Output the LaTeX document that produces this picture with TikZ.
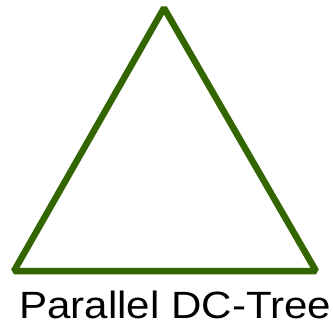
\documentclass[tikz,border=0pt]{standalone}
\usepackage{fontspec}
\setmainfont{Liberation Sans}
\definecolor{treegreen}{RGB}{51,102,0}
\begin{document}
\begin{tikzpicture}[x=1pt,y=-1pt,
  treeline/.style={draw=treegreen,line width=6.5pt,line join=bevel},
  lbl/.style={inner sep=0pt,anchor=base west,xscale=1.108,font=\fontsize{38}{40}\selectfont}]
\useasboundingbox (0,0) rectangle (333,324);
\coordinate (top) at (164,8);
\coordinate (bl) at (14,271);
\coordinate (br) at (316,271);
\path[treeline] (top) -- (br) -- (bl) -- cycle;
\node[lbl] (label) at (19,319) {Parallel DC-Tree};
\end{tikzpicture}
\end{document}
